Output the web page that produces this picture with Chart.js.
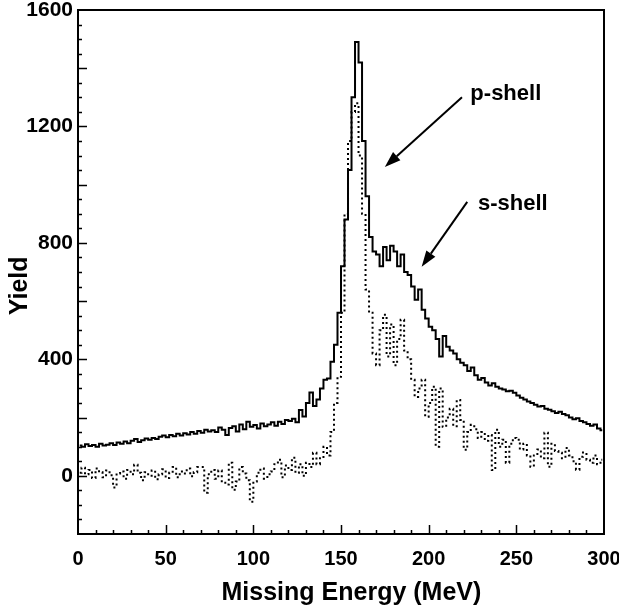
<!DOCTYPE html>
<html>
<head>
<meta charset="utf-8">
<script src="https://cdn.jsdelivr.net/npm/chart.js@4.4.1/dist/chart.umd.min.js"></script>
<style>
  html, body { margin: 0; padding: 0; background: #fff; }
  #wrap { width: 619px; height: 610px; }
</style>
</head>
<body>
<div id="wrap"><canvas id="myChart" width="619" height="610"></canvas></div>
<script>
// 2 MeV bins, centres 1, 3, ... 299
const binCenters = [];
for (let i = 0; i < 150; i++) binCenters.push(2 * i + 1);

// total yield (solid histogram)
const totalYield = [
  104, 100, 108, 102, 106, 100, 110, 104, 107, 112,
  106, 114, 110, 118, 112, 120, 126, 116, 122, 128,
  124, 130, 126, 134, 138, 132, 140, 136, 144, 138,
  146, 142, 150, 144, 154, 148, 158, 152, 156, 150,
  166, 158, 140, 164, 170, 152, 176, 160, 186, 168,
  174, 162, 180, 170, 176, 184, 172, 186, 178, 192,
  188, 196, 184, 226, 204, 250, 286, 240, 262, 300,
  330, 334, 392, 450, 560,
  720, 880, 1050, 1300, 1490,
  1420, 1150, 960, 820, 770,
  760, 720, 786, 740, 790, 770, 720, 760, 700, 690,
  650, 605, 640, 570, 540,
  512, 500, 470, 410, 480,
  443, 430, 420, 400, 388,
  380, 360, 372, 345, 330,
  336, 320, 310, 318, 306,
  300, 296, 290, 292, 285,
  276, 268, 262, 255, 250,
  244, 238, 240, 230, 227,
  222, 216, 220, 212, 208,
  200, 194, 198, 188, 184,
  178, 172, 176, 162, 156
];

// subtracted yield (dotted histogram)
const subYield = [
  10, 28, 5, 20, -8, 25, 12, -5, 18, 2,
  -40, 8, 15, -10, 20, 5, 38, 10, -15, 12,
  0, 18, -12, 5, 22, -8, 10, 30, -5, 15,
  8, 25, -2, 12, 30, 30, -58, 5, 20, -10,
  18, -24, -30, 45, -48, -20, 30, 8, -15, -89,
  -20, 10, 25, -10, 5, 15, 40, 55, -5, 35,
  20, 62, 10, 40, 0, 45, 30, 79, 40, 60,
  100, 70, 150, 250, 340,
  560, 900, 1150, 1250, 1280,
  1100, 900, 640, 560, 420,
  380, 500, 553, 410, 520, 380, 470, 536, 430, 400,
  330, 271, 300, 330, 203,
  250, 306, 100, 300, 168,
  200, 230, 170, 260, 192,
  89, 150, 175, 160, 130,
  150, 120, 140, 20, 158,
  100, 124, 45, 110, 130,
  124, 90, 110, 70, 31,
  70, 90, 60, 148, 31,
  110, 85, 79, 60, 95,
  70, 50, 21, 65, 80,
  55, 45, 70, 40, 55
];

const xTicks = [0, 50, 100, 150, 200, 250, 300];
const yTicks = [0, 400, 800, 1200, 1600];

// labels with arrows, in data coordinates
const notes = [
  { text: 'p-shell', at: [244, 1310], from: [219, 1300], to: [175, 1061] },
  { text: 's-shell', at: [248, 934], from: [222, 941], to: [196, 718] }
];

const FONT = "'Liberation Sans', Arial, Helvetica, sans-serif";

const frameAndNotes = {
  id: 'frameAndNotes',
  afterDraw(chart) {
    const { ctx, chartArea: a, scales: { x, y } } = chart;
    ctx.save();
    ctx.strokeStyle = '#000';
    ctx.lineWidth = 2;
    ctx.strokeRect(a.left, a.top, a.right - a.left, a.bottom - a.top);

    // inward ticks
    ctx.lineWidth = 1.5;
    ctx.beginPath();
    for (let v = 10; v < 300; v += 10) {
      const px = Math.round(x.getPixelForValue(v)) + 0.5;
      const len = v % 50 === 0 ? 9 : 4;
      ctx.moveTo(px, a.bottom);
      ctx.lineTo(px, a.bottom - len);
    }
    for (let v = -150; v < 1600; v += 50) {
      const py = Math.round(y.getPixelForValue(v)) + 0.5;
      const len = v % 200 === 0 ? 9 : 4;
      ctx.moveTo(a.left, py);
      ctx.lineTo(a.left + len, py);
    }
    ctx.stroke();

    ctx.fillStyle = '#000';
    ctx.font = 'bold 22px ' + FONT;
    ctx.textAlign = 'center';
    ctx.textBaseline = 'middle';
    notes.forEach(function (n) {
      ctx.fillText(n.text, x.getPixelForValue(n.at[0]), y.getPixelForValue(n.at[1]));
      const x0 = x.getPixelForValue(n.from[0]), y0 = y.getPixelForValue(n.from[1]);
      const x1 = x.getPixelForValue(n.to[0]), y1 = y.getPixelForValue(n.to[1]);
      const ang = Math.atan2(y1 - y0, x1 - x0);
      const head = 16, half = 5.5;
      const bx = x1 - head * Math.cos(ang), by = y1 - head * Math.sin(ang);
      ctx.lineWidth = 2;
      ctx.beginPath();
      ctx.moveTo(x0, y0);
      ctx.lineTo(bx, by);
      ctx.stroke();
      ctx.beginPath();
      ctx.moveTo(x1, y1);
      ctx.lineTo(bx + half * Math.sin(ang), by - half * Math.cos(ang));
      ctx.lineTo(bx - half * Math.sin(ang), by + half * Math.cos(ang));
      ctx.closePath();
      ctx.fill();
    });
    ctx.restore();
  }
};

new Chart(document.getElementById('myChart'), {
  type: 'line',
  data: {
    datasets: [
      {
        label: 'total',
        data: binCenters.map((e, i) => ({ x: e, y: totalYield[i] })),
        borderColor: '#000',
        borderWidth: 2,
        stepped: 'middle',
        pointRadius: 0,
        fill: false,
      },
      {
        label: 'subtracted',
        data: binCenters.map((e, i) => ({ x: e, y: subYield[i] })),
        borderColor: '#000',
        borderWidth: 2,
        borderDash: [2, 3],
        stepped: 'middle',
        pointRadius: 0,
        fill: false,
      },
    ],
  },
  options: {
    responsive: false,
    animation: false,
    layout: { padding: { top: 10, right: 15, left: 0, bottom: 0 } },
    plugins: {
      legend: { display: false },
      tooltip: { enabled: false },
    },
    scales: {
      x: {
        type: 'linear',
        min: 0,
        max: 300,
        afterBuildTicks: (s) => { s.ticks = xTicks.map((v) => ({ value: v })); },
        afterFit: (s) => {
          s.height = 76;
          s.paddingLeft = 0;
          s.paddingRight = 0;
        },
        grid: { display: false, drawTicks: false },
        border: { display: false },
        ticks: {
          color: '#000',
          padding: 13,
          maxRotation: 0,
          autoSkip: false,
          callback: (v) => String(v),
          font: { family: FONT, size: 20, weight: 'bold' },
        },
        title: {
          display: true,
          text: '   Missing Energy (MeV)',
          color: '#000',
          padding: { top: 0, bottom: 2 },
          font: { family: FONT, size: 25, weight: 'bold' },
        },
      },
      y: {
        min: -200,
        max: 1600,
        afterBuildTicks: (s) => { s.ticks = yTicks.map((v) => ({ value: v })); },
        afterFit: (s) => {
          s.width = 78;
          s.paddingTop = 0;
          s.paddingBottom = 0;
        },
        grid: { display: false, drawTicks: false },
        border: { display: false },
        ticks: {
          color: '#000',
          padding: 5,
          autoSkip: false,
          callback: (v) => String(v),
          font: { family: FONT, size: 21, weight: 'bold' },
        },
        title: {
          display: true,
          text: 'Yield    ',
          color: '#000',
          padding: { top: 5, bottom: 0 },
          font: { family: FONT, size: 25, weight: 'bold' },
        },
      },
    },
  },
  plugins: [frameAndNotes],
});
</script>
</body>
</html>
